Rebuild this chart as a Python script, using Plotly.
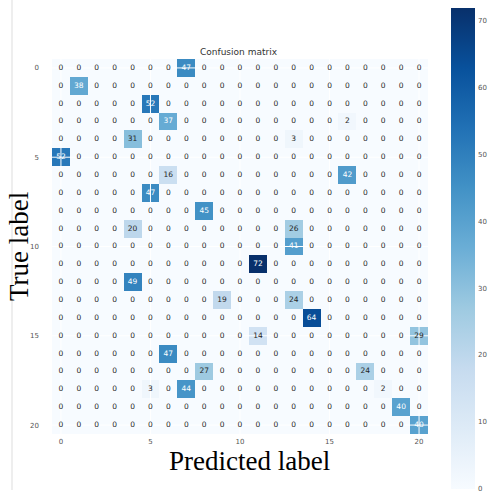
import plotly.graph_objects as go

# ---- data ----
n_classes = 21
class_ticks = [0, 5, 10, 15, 20]
colorbar_ticks = [0, 10, 20, 30, 40, 50, 60, 70]
# non-zero cells: (true_row, predicted_col, count)
nz_rows = [0, 1, 2, 3, 3, 4, 4, 5, 6, 6, 7, 8, 9, 9, 10, 11, 12, 13, 13, 14, 15, 15, 16, 17, 17, 18, 18, 18, 19, 20]
nz_cols = [7, 1, 5, 6, 16, 4, 13, 0, 6, 16, 5, 8, 4, 13, 13, 11, 4, 9, 13, 14, 11, 20, 6, 8, 17, 5, 7, 18, 19, 20]
nz_vals = [47, 38, 52, 37, 2, 31, 3, 52, 16, 42, 47, 45, 20, 26, 41, 72, 49, 19, 24, 64, 14, 29, 47, 27, 24, 3, 44, 2, 40, 40]

cm = [[0] * n_classes for _ in range(n_classes)]
for r, c, v in zip(nz_rows, nz_cols, nz_vals):
    cm[r][c] = v

blues = [[0.0, "#f7fbff"], [0.125, "#deebf7"], [0.25, "#c6dbef"], [0.375, "#9ecae1"],
         [0.5, "#6baed6"], [0.625, "#4292c6"], [0.75, "#2171b5"], [0.875, "#08519c"], [1.0, "#08306b"]]

vmax = max(nz_vals)
thresh = vmax / 2.0

W, H = 491, 498
L, R, T, B = 52, 63, 59, 64
pw, ph = W - L - R, H - T - B
CB_TOP, CB_BOT = 8, 489

def px_x(px):
    return (px - L) / pw

def px_y(py):
    return (H - B - py) / ph

fig = go.Figure()
fig.add_trace(go.Heatmap(
    z=cm, x=list(range(n_classes)), y=list(range(n_classes)),
    colorscale=blues, zmin=0, zmax=vmax, showscale=True, hoverinfo="skip",
    colorbar=dict(
        thickness=24, lenmode="pixels", len=CB_BOT - CB_TOP, x=px_x(451), xanchor="left",
        y=px_y((CB_TOP + CB_BOT) / 2), yanchor="middle", outlinewidth=0, xpad=0, ypad=0,
        ticks="", showticklabels=False,
    ),
))

# white grid lines at tick positions (drawn over cells, under the numbers)
gx, gy = [], []
for t in class_ticks:
    gx += [t, t, None, -0.5, n_classes - 0.5, None]
    gy += [-0.5, n_classes - 0.5, None, t, t, None]
fig.add_trace(go.Scatter(x=gx, y=gy, mode="lines", line=dict(color="white", width=1),
                         hoverinfo="skip", showlegend=False))

for color, keep in (("white", lambda v: v > thresh), ("#262626", lambda v: v <= thresh)):
    xs, ys, ts = [], [], []
    for r in range(n_classes):
        for c in range(n_classes):
            if keep(cm[r][c]):
                xs.append(c); ys.append(r); ts.append(str(cm[r][c]))
    fig.add_trace(go.Scatter(x=xs, y=ys, text=ts, mode="text", hoverinfo="skip", showlegend=False,
                             textfont=dict(size=7.5, color=color, family="DejaVu Sans")))

shapes = [dict(type="line", xref="paper", yref="paper", x0=px_x(12), x1=px_x(12), y0=px_y(0), y1=px_y(490),
               line=dict(color="#dddddd", width=1))]

# colorbar tick labels, placed along the bar from the colorbar tick values
cb_labels = [
    dict(text=str(v), xref="paper", yref="paper", x=px_x(476),
         y=px_y(CB_BOT - (v / vmax) * (CB_BOT - CB_TOP)),
         showarrow=False, xanchor="left", yanchor="middle",
         font=dict(size=7, color="#555", family="DejaVu Sans"))
    for v in colorbar_ticks
]

fig.update_layout(
    width=W, height=H, margin=dict(l=L, r=R, t=T, b=B, autoexpand=False),
    paper_bgcolor="white", plot_bgcolor="white", showlegend=False,
    shapes=shapes,
    xaxis=dict(range=[-0.5, n_classes - 0.5], tickvals=class_ticks, showgrid=False, zeroline=False,
               ticks="", tickfont=dict(size=7, color="#555", family="DejaVu Sans"), ticklabelstandoff=2),
    yaxis=dict(range=[n_classes - 0.5, -0.5], tickvals=class_ticks, showgrid=False, zeroline=False,
               ticks="", tickfont=dict(size=7, color="#555", family="DejaVu Sans"), ticklabelstandoff=12),
    annotations=[
        dict(text="Confusion matrix", xref="paper", yref="paper", x=px_x(239), y=px_y(52),
             showarrow=False, xanchor="center", yanchor="middle",
             font=dict(size=9, color="#333", family="DejaVu Sans")),
        dict(text="Predicted label", xref="paper", yref="paper", x=px_x(250), y=px_y(461),
             showarrow=False, xanchor="center", yanchor="middle", borderpad=0,
             font=dict(size=27, color="black", family="Liberation Serif")),
        dict(text="True label", xref="paper", yref="paper", x=px_x(19), y=px_y(247), textangle=-90,
             showarrow=False, xanchor="center", yanchor="middle",
             font=dict(size=27, color="black", family="Liberation Serif")),
    ] + cb_labels,
)

fig.write_html("out.html", config={"displayModeBar": False},
               post_script="document.body.style.margin='0';document.body.style.overflow='hidden';")
